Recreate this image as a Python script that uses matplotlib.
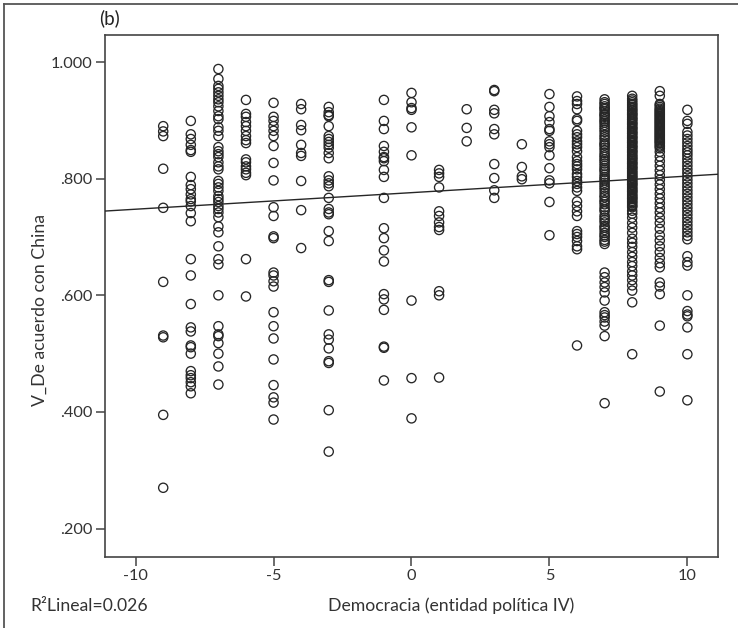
import matplotlib
matplotlib.use("Agg")
import matplotlib.pyplot as plt
from matplotlib.lines import Line2D
from matplotlib.ticker import FixedLocator, FuncFormatter
import numpy as np

plt.rcParams['font.family'] = ['Lato', 'DejaVu Sans']

# Democracy score (Polity IV) -> agreement-with-China values observed at that score
v_m9 = [0.890, 0.881, 0.873, 0.817, 0.750, 0.623, 0.531, 0.528, 0.395, 0.270]
v_m8 = [0.899, 0.876, 0.868, 0.858, 0.849, 0.846, 0.803, 0.789, 0.782, 0.773,
        0.765, 0.761, 0.753, 0.741, 0.727, 0.662, 0.634, 0.585, 0.545, 0.538,
        0.514, 0.511, 0.500, 0.470, 0.463, 0.458, 0.451, 0.444, 0.432]
v_m7 = [0.988, 0.971, 0.959, 0.954, 0.948, 0.942, 0.936, 0.931, 0.924, 0.916,
        0.907, 0.902, 0.888, 0.882, 0.873, 0.854, 0.847, 0.842, 0.837, 0.828,
        0.821, 0.816, 0.796, 0.791, 0.785, 0.779, 0.770, 0.765, 0.760, 0.753,
        0.748, 0.742, 0.734, 0.718, 0.708, 0.684, 0.662, 0.653, 0.600, 0.547,
        0.533, 0.530, 0.518, 0.500, 0.478, 0.447]
v_m6 = [0.935, 0.911, 0.906, 0.897, 0.890, 0.882, 0.873, 0.866, 0.861, 0.833,
        0.828, 0.821, 0.816, 0.810, 0.806, 0.662, 0.598]
v_m5 = [0.930, 0.906, 0.899, 0.890, 0.882, 0.873, 0.856, 0.827, 0.797, 0.751,
        0.736, 0.701, 0.698, 0.639, 0.634, 0.624, 0.615, 0.571, 0.547, 0.526,
        0.490, 0.446, 0.425, 0.416, 0.387]
v_m4 = [0.928, 0.919, 0.892, 0.883, 0.858, 0.844, 0.839, 0.796, 0.746, 0.681]
v_m3 = [0.923, 0.914, 0.909, 0.907, 0.890, 0.873, 0.868, 0.863, 0.858, 0.853,
        0.844, 0.835, 0.804, 0.797, 0.792, 0.787, 0.767, 0.748, 0.742, 0.739,
        0.710, 0.693, 0.626, 0.623, 0.574, 0.533, 0.524, 0.509, 0.487, 0.484,
        0.403, 0.332]
v_m1 = [0.935, 0.899, 0.885, 0.856, 0.846, 0.837, 0.835, 0.830, 0.815, 0.803,
        0.767, 0.715, 0.698, 0.677, 0.658, 0.602, 0.593, 0.575, 0.512, 0.510,
        0.454]
v_0 = [0.947, 0.931, 0.921, 0.918, 0.888, 0.840, 0.591, 0.458, 0.389]
v_1 = [0.815, 0.809, 0.803, 0.785, 0.744, 0.736, 0.725, 0.717, 0.712, 0.607,
       0.600, 0.459]
v_2 = [0.919, 0.887, 0.864]
v_3 = [0.952, 0.950, 0.918, 0.912, 0.885, 0.876, 0.825, 0.801, 0.780, 0.767]
v_4 = [0.859, 0.820, 0.804, 0.799]
v_5 = [0.945, 0.923, 0.907, 0.897, 0.885, 0.882, 0.864, 0.859, 0.854, 0.840,
       0.818, 0.797, 0.792, 0.760, 0.703]
v_6 = [0.941, 0.933, 0.928, 0.919, 0.902, 0.899, 0.882, 0.876, 0.871, 0.864,
       0.859, 0.854, 0.847, 0.837, 0.830, 0.825, 0.821, 0.816, 0.808, 0.803,
       0.796, 0.791, 0.785, 0.779, 0.761, 0.753, 0.744, 0.736, 0.710, 0.705,
       0.700, 0.693, 0.684, 0.679, 0.514]
v_7 = [0.936, 0.931, 0.928, 0.924, 0.921, 0.919, 0.915, 0.911, 0.909, 0.906,
       0.902, 0.899, 0.896, 0.892, 0.888, 0.884, 0.880, 0.875, 0.871, 0.867,
       0.862, 0.859, 0.857, 0.853, 0.849, 0.844, 0.840, 0.837, 0.833, 0.830,
       0.826, 0.822, 0.818, 0.815, 0.812, 0.807, 0.803, 0.800, 0.797, 0.793,
       0.789, 0.785, 0.781, 0.776, 0.771, 0.768, 0.763, 0.760, 0.756, 0.751,
       0.747, 0.744, 0.737, 0.733, 0.729, 0.725, 0.719, 0.716, 0.712, 0.707,
       0.703, 0.700, 0.695, 0.692, 0.688, 0.639, 0.631, 0.622, 0.614, 0.605,
       0.591, 0.571, 0.566, 0.562, 0.555, 0.548, 0.530, 0.415]
v_8 = [0.942, 0.937, 0.934, 0.931, 0.928, 0.926, 0.923, 0.921, 0.918, 0.917,
       0.914, 0.912, 0.910, 0.909, 0.906, 0.904, 0.902, 0.901, 0.898, 0.896,
       0.894, 0.893, 0.890, 0.888, 0.886, 0.885, 0.882, 0.880, 0.878, 0.877,
       0.874, 0.872, 0.870, 0.869, 0.866, 0.864, 0.862, 0.861, 0.858, 0.856,
       0.854, 0.853, 0.850, 0.848, 0.846, 0.845, 0.842, 0.840, 0.838, 0.836,
       0.834, 0.833, 0.830, 0.828, 0.826, 0.825, 0.822, 0.820, 0.818, 0.817,
       0.814, 0.812, 0.810, 0.808, 0.806, 0.804, 0.802, 0.801, 0.798, 0.796,
       0.794, 0.792, 0.790, 0.789, 0.786, 0.784, 0.782, 0.780, 0.778, 0.777,
       0.774, 0.772, 0.770, 0.768, 0.766, 0.765, 0.762, 0.760, 0.758, 0.755,
       0.753, 0.751, 0.745, 0.740, 0.733, 0.724, 0.716, 0.707, 0.697, 0.690,
       0.683, 0.674, 0.666, 0.657, 0.650, 0.641, 0.634, 0.626, 0.617, 0.608,
       0.588, 0.499]
v_9 = [0.950, 0.942, 0.928, 0.926, 0.923, 0.920, 0.918, 0.916, 0.914, 0.912,
       0.910, 0.908, 0.906, 0.904, 0.902, 0.900, 0.898, 0.896, 0.894, 0.892,
       0.890, 0.888, 0.886, 0.884, 0.882, 0.880, 0.878, 0.876, 0.874, 0.872,
       0.870, 0.868, 0.866, 0.864, 0.862, 0.860, 0.857, 0.855, 0.852, 0.846,
       0.838, 0.830, 0.822, 0.814, 0.806, 0.798, 0.790, 0.782, 0.774, 0.766,
       0.758, 0.750, 0.742, 0.733, 0.724, 0.714, 0.703, 0.694, 0.684, 0.674,
       0.664, 0.655, 0.648, 0.622, 0.615, 0.602, 0.548, 0.435]
v_10 = [0.918, 0.899, 0.894, 0.880, 0.874, 0.868, 0.862, 0.856, 0.850, 0.845,
        0.840, 0.834, 0.828, 0.822, 0.816, 0.810, 0.804, 0.798, 0.792, 0.786,
        0.780, 0.774, 0.768, 0.762, 0.756, 0.750, 0.744, 0.738, 0.732, 0.726,
        0.720, 0.714, 0.708, 0.702, 0.696, 0.667, 0.657, 0.651, 0.600, 0.573,
        0.567, 0.564, 0.545, 0.499, 0.420]

scores = [-9, -8, -7, -6, -5, -4, -3, -1, 0, 1, 2, 3, 4, 5, 6, 7, 8, 9, 10]
groups = [v_m9, v_m8, v_m7, v_m6, v_m5, v_m4, v_m3, v_m1, v_0, v_1, v_2,
          v_3, v_4, v_5, v_6, v_7, v_8, v_9, v_10]

# Linear fit shown on the chart
fit_intercept = 0.776
fit_slope = 0.00284
r2_text = "R\u00b2Lineal=0.026"

x_ticks = [-10, -5, 0, 5, 10]
y_ticks = [0.2, 0.4, 0.6, 0.8, 1.0]

x_all = np.concatenate([np.full(len(g), s) for s, g in zip(scores, groups)])
y_all = np.concatenate([np.asarray(g) for g in groups])

W, H = 738, 628
fig = plt.figure(figsize=(W / 100, H / 100), dpi=100)
ax = fig.add_axes([105 / W, 1 - 557 / H, (718 - 105) / W, (557 - 35) / H])

ink = '#262626'
ax.scatter(x_all, y_all, s=44, facecolors='none', edgecolors=ink,
           linewidths=0.95, zorder=3)

xlim = (-11.11, 11.11)
xs = np.array(xlim)
ax.plot(xs, fit_intercept + fit_slope * xs, color=ink, lw=1.0, zorder=4)

ax.set_xlim(*xlim)
ax.set_ylim(0.1513, 1.0463)
ax.xaxis.set_major_locator(FixedLocator(x_ticks))
ax.yaxis.set_major_locator(FixedLocator(y_ticks))
ax.yaxis.set_major_formatter(FuncFormatter(
    lambda v, p: f"{v:.3f}" if v >= 1 else f"{v:.3f}".lstrip('0')))
ax.xaxis.set_major_formatter(FuncFormatter(lambda v, p: f"{v:g}"))

for sp in ax.spines.values():
    sp.set_color('#444444')
    sp.set_linewidth(1.2)
ax.tick_params(axis='both', direction='out', length=6.5, width=1.1,
               color='#444444', labelsize=11.8, labelcolor='#333333', pad=2.5)

label_size = 12.7
fig.text(328 / W, 1 - 606 / H, "Democracia (entidad pol\u00edtica IV)",
         ha='left', va='center', fontsize=label_size, color='#333333')
fig.text(30 / W, 1 - 606 / H, r2_text, ha='left', va='center',
         fontsize=label_size, color='#333333')
fig.text(40 / W, 1 - 310 / H, "V_De acuerdo con China", rotation=90,
         ha='center', va='center', fontsize=label_size, color='#333333')
fig.text(99 / W, 1 - 18 / H, "(b)", ha='left', va='center',
         fontsize=13.5, color='#222222')

# Figure frame along the top and left edges
frame = '#555555'
fig.add_artist(Line2D([4 / W, 4 / W], [0, 1 - 4 / H], color=frame, lw=1.3,
                      transform=fig.transFigure))
fig.add_artist(Line2D([4 / W, 1], [1 - 4 / H, 1 - 4 / H], color=frame,
                      lw=1.3, transform=fig.transFigure))

fig.savefig("out.png", dpi=100, facecolor='white')
